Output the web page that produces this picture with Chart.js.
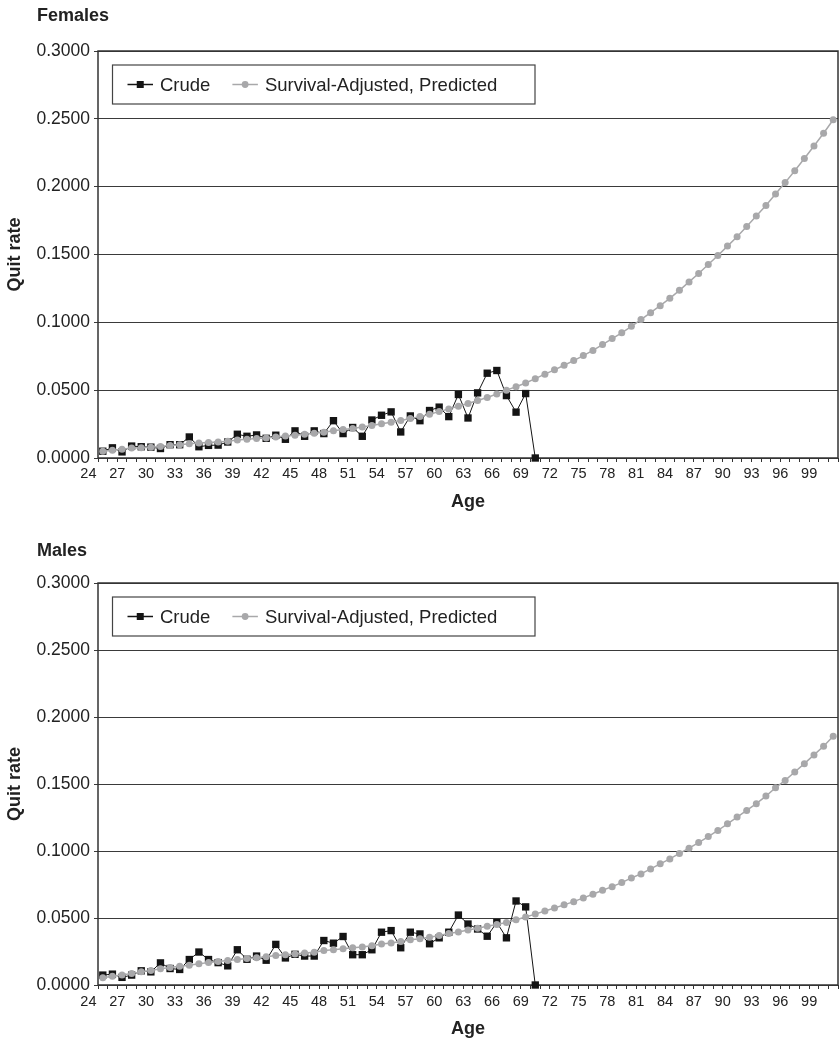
<!DOCTYPE html>
<html>
<head>
<meta charset="utf-8">
<title>Quit rate by age</title>
<script src="https://cdn.jsdelivr.net/npm/chart.js@4.4.1/dist/chart.umd.min.js"></script>
<style>
  body { margin: 0; background: #fff; }
  canvas { display: block; }
</style>
</head>
<body>
<canvas id="femalesChart" width="839" height="521"></canvas>
<canvas id="malesChart" width="839" height="522"></canvas>
<script>
// one category per year of age
const ages = [25, 26, 27, 28, 29, 30, 31, 32, 33, 34, 35, 36, 37, 38, 39, 40, 41, 42, 43, 44,
  45, 46, 47, 48, 49, 50, 51, 52, 53, 54, 55, 56, 57, 58, 59, 60, 61, 62, 63, 64,
  65, 66, 67, 68, 69, 70, 71, 72, 73, 74, 75, 76, 77, 78, 79, 80, 81, 82, 83, 84,
  85, 86, 87, 88, 89, 90, 91, 92, 93, 94, 95, 96, 97, 98, 99, 100, 101];

// labelled ages on the x axis
const xTickLabels = [24, 27, 30, 33, 36, 39, 42, 45, 48, 51, 54, 57, 60, 63, 66, 69, 72, 75, 78, 81, 84, 87, 90, 93, 96, 99];

const seriesNames = ['Crude', 'Survival-Adjusted, Predicted'];

// females, ages 25-70
const femaleCrude = [0.0050, 0.0075, 0.0045, 0.0088, 0.0083, 0.0080, 0.0070, 0.0098, 0.0098, 0.0155,
  0.0083, 0.0093, 0.0095, 0.0118, 0.0175, 0.0160, 0.0170, 0.0145, 0.0168, 0.0138,
  0.0200, 0.0160, 0.0200, 0.0180, 0.0275, 0.0180, 0.0225, 0.0160, 0.0280, 0.0315,
  0.0340, 0.0192, 0.0310, 0.0275, 0.0350, 0.0375, 0.0305, 0.0468, 0.0295, 0.0480,
  0.0625, 0.0645, 0.0460, 0.0338, 0.0475, 0.0000];

// females, ages 25-101
const femalePredicted = [0.0050, 0.0058, 0.0065, 0.0073, 0.0076, 0.0079, 0.0085, 0.0092, 0.0098, 0.0105,
  0.0110, 0.0114, 0.0118, 0.0123, 0.0132, 0.0138, 0.0143, 0.0148, 0.0155, 0.0162,
  0.0168, 0.0175, 0.0183, 0.0190, 0.0200, 0.0210, 0.0218, 0.0228, 0.0240, 0.0252,
  0.0263, 0.0277, 0.0291, 0.0305, 0.0323, 0.0342, 0.0362, 0.0382, 0.0402, 0.0424,
  0.0446, 0.0472, 0.0500, 0.0525, 0.0553, 0.0585, 0.0618, 0.0650, 0.0684, 0.0718,
  0.0755, 0.0793, 0.0836, 0.0880, 0.0923, 0.0971, 0.1020, 0.1071, 0.1123, 0.1177,
  0.1236, 0.1298, 0.1360, 0.1426, 0.1493, 0.1562, 0.1631, 0.1707, 0.1783, 0.1862,
  0.1946, 0.2030, 0.2118, 0.2207, 0.2300, 0.2394, 0.2493];

// males, ages 25-70
const maleCrude = [0.0074, 0.0081, 0.0057, 0.0074, 0.0106, 0.0098, 0.0165, 0.0123, 0.0116, 0.0190,
  0.0246, 0.0190, 0.0167, 0.0143, 0.0263, 0.0192, 0.0216, 0.0185, 0.0303, 0.0202,
  0.0229, 0.0216, 0.0216, 0.0332, 0.0312, 0.0362, 0.0226, 0.0226, 0.0263, 0.0394,
  0.0406, 0.0278, 0.0394, 0.0381, 0.0308, 0.0352, 0.0394, 0.0522, 0.0455, 0.0418,
  0.0364, 0.0467, 0.0352, 0.0627, 0.0583, 0.0000];

// males, ages 25-101
const malePredicted = [0.0054, 0.0066, 0.0074, 0.0086, 0.0098, 0.0108, 0.0121, 0.0130, 0.0140, 0.0148,
  0.0159, 0.0167, 0.0176, 0.0182, 0.0191, 0.0197, 0.0204, 0.0210, 0.0220, 0.0226,
  0.0231, 0.0238, 0.0245, 0.0257, 0.0263, 0.0271, 0.0278, 0.0284, 0.0293, 0.0306,
  0.0313, 0.0325, 0.0338, 0.0346, 0.0357, 0.0369, 0.0384, 0.0395, 0.0410, 0.0423,
  0.0438, 0.0451, 0.0467, 0.0487, 0.0508, 0.0529, 0.0552, 0.0575, 0.0598, 0.0622,
  0.0650, 0.0677, 0.0707, 0.0734, 0.0764, 0.0799, 0.0829, 0.0866, 0.0904, 0.0941,
  0.0982, 0.1021, 0.1063, 0.1108, 0.1153, 0.1203, 0.1253, 0.1303, 0.1353, 0.1410,
  0.1472, 0.1527, 0.1590, 0.1652, 0.1717, 0.1782, 0.1857];

const FONT = "'Liberation Sans', Arial, sans-serif";
Chart.defaults.font.family = FONT;
Chart.defaults.color = '#222';

const crudeColor = '#141414';
const predColor = '#a8a8aa';

// box round the plot area
const frame = {
  id: 'frame',
  beforeDatasetsDraw(chart) {
    const { ctx, chartArea: a } = chart;
    ctx.save();
    ctx.strokeStyle = '#333';
    ctx.lineWidth = 1.5;
    ctx.strokeRect(a.left, a.top, a.right - a.left, a.bottom - a.top);
    ctx.restore();
  }
};

// boxed legend inside the top-left corner of the plot
const legendBox = {
  id: 'legendBox',
  afterDatasetsDraw(chart) {
    const { ctx, chartArea: a } = chart;
    const x = a.left + 14.5, y = a.top + 14, w = 422.5, h = 39;
    const cy = y + h / 2;
    ctx.save();
    ctx.fillStyle = '#fff';
    ctx.fillRect(x, y, w, h);
    ctx.strokeStyle = '#444';
    ctx.lineWidth = 1.2;
    ctx.strokeRect(x, y, w, h);
    ctx.font = '18.5px ' + FONT;
    ctx.textBaseline = 'middle';
    let mx = x + 15;
    chart.data.datasets.forEach(ds => {
      ctx.strokeStyle = ds.borderColor;
      ctx.lineWidth = 1.5;
      ctx.beginPath();
      ctx.moveTo(mx, cy);
      ctx.lineTo(mx + 25.5, cy);
      ctx.stroke();
      ctx.fillStyle = ds.backgroundColor;
      if (ds.pointStyle === 'rect') {
        ctx.fillRect(mx + 9.25, cy - 3.5, 7, 7);
      } else {
        ctx.beginPath();
        ctx.arc(mx + 12.75, cy, 3.4, 0, Math.PI * 2);
        ctx.fill();
      }
      ctx.fillStyle = '#222';
      ctx.fillText(ds.label, mx + 32.5, cy + 1);
      mx += 32.5 + ctx.measureText(ds.label).width + 22;
    });
    ctx.restore();
  }
};

// bold panel heading above the plot
const panelTitle = {
  id: 'panelTitle',
  afterDraw(chart, args, opts) {
    const { ctx } = chart;
    ctx.save();
    ctx.font = 'bold 18px ' + FONT;
    ctx.fillStyle = '#222';
    ctx.textBaseline = 'alphabetic';
    ctx.fillText(opts.text, 37, opts.y);
    ctx.restore();
  }
};

// x labels that fall left of the first category (the "24")
const outerTicks = {
  id: 'outerTicks',
  afterDraw(chart, args, opts) {
    const { ctx } = chart;
    const xs = chart.scales.x;
    const step = xs.getPixelForValue(1) - xs.getPixelForValue(0);
    const edge = xs.getPixelForValue(0) - step / 2;
    ctx.save();
    ctx.font = '14.5px ' + FONT;
    ctx.fillStyle = '#222';
    ctx.textAlign = 'center';
    ctx.textBaseline = 'middle';
    xTickLabels.filter(t => t < ages[0]).forEach(t => {
      ctx.fillText(String(t), edge - (ages[0] - t) * step, xs.top + 4 + opts.pad + 8.7);
    });
    ctx.restore();
  }
};

function buildChart(id, title, crude, predicted, box) {
  return new Chart(document.getElementById(id), {
    type: 'line',
    data: {
      labels: ages,
      datasets: [
        {
          label: seriesNames[0],
          data: crude,
          borderColor: crudeColor,
          backgroundColor: crudeColor,
          borderWidth: 1,
          pointStyle: 'rect',
          pointRadius: 5.2,
          pointBorderWidth: 0,
          tension: 0,
          order: 2,
          clip: false
        },
        {
          label: seriesNames[1],
          data: predicted,
          borderColor: predColor,
          backgroundColor: predColor,
          borderWidth: 1.5,
          pointStyle: 'circle',
          pointRadius: 3.5,
          pointBorderWidth: 0,
          tension: 0,
          order: 1,
          clip: false
        }
      ]
    },
    options: {
      responsive: false,
      animation: false,
      devicePixelRatio: 1,
      layout: { autoPadding: false, padding: { left: 0, right: 1, top: box.top, bottom: 0 } },
      plugins: {
        legend: { display: false },
        tooltip: { enabled: false },
        panelTitle: { text: title, y: box.titleY },
        outerTicks: { pad: box.tickPad }
      },
      scales: {
        x: {
          type: 'category',
          offset: true,
          grid: { offset: true, drawOnChartArea: false, drawTicks: true, tickLength: 4, color: '#333', lineWidth: 1 },
          border: { display: false },
          ticks: {
            autoSkip: false,
            maxRotation: 0,
            padding: box.tickPad,
            labelOffset: -4.8,
            font: { size: 14.5 },
            color: '#222',
            callback: (v, i) => xTickLabels.includes(ages[i]) ? String(ages[i]) : ''
          },
          title: {
            display: true,
            text: 'Age',
            color: '#222',
            font: { size: 18, weight: 'bold' },
            padding: { top: 0, bottom: box.ageGap }
          },
          afterFit: s => {
            s.height = box.xHeight;
            s.paddingLeft = 0;
            s.paddingRight = 0;
          }
        },
        y: {
          min: 0,
          max: 0.3,
          ticks: {
            stepSize: 0.05,
            padding: 4,
            font: { size: 17.5 },
            color: '#222',
            callback: v => v.toFixed(4)
          },
          grid: { color: '#3a3a3a', lineWidth: 1, tickLength: 4 },
          border: { display: false },
          title: {
            display: true,
            text: 'Quit rate',
            color: '#222',
            font: { size: 18, weight: 'bold' },
            padding: { top: 4, bottom: 0 }
          },
          afterFit: s => { s.width = 98; }
        }
      }
    },
    plugins: [frame, legendBox, panelTitle, outerTicks]
  });
}

buildChart('femalesChart', 'Females', femaleCrude, femalePredicted,
  { top: 51, titleY: 21, xHeight: 63, tickPad: 3, ageGap: 8 });
buildChart('malesChart', 'Males', maleCrude, malePredicted,
  { top: 62, titleY: 35, xHeight: 58, tickPad: 4, ageGap: 3 });
</script>
</body>
</html>
